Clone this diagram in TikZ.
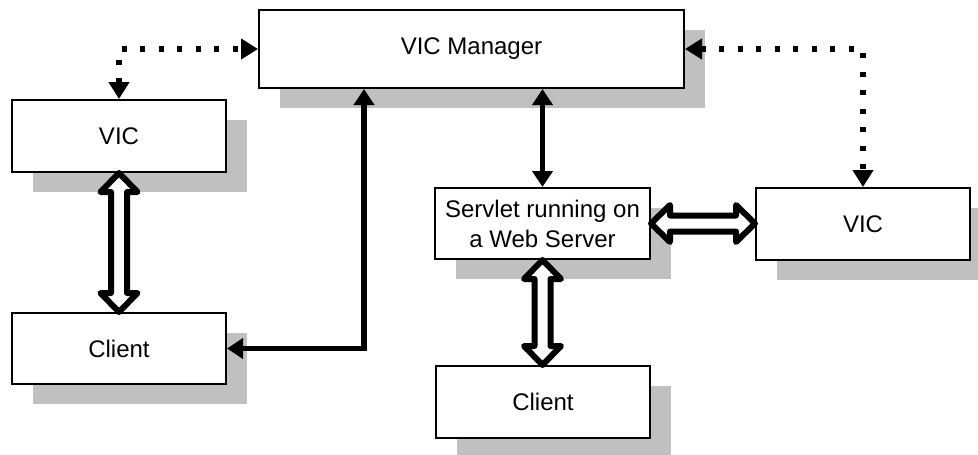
\documentclass[tikz,border=0pt]{standalone}
\usepackage{fontspec}
\setmainfont{Liberation Sans}
\usetikzlibrary{arrows.meta,shadows,calc}
\definecolor{shade}{HTML}{C0C0C0}

% Hollow double-headed block arrows (vertical and horizontal)
\newcommand\hollowV[2]{%
  \draw[hollow] let \p1=(#1), \p2=(#2) in
    (\x1,\y1) -- (\x1+18.5pt,\y1-19pt) -- (\x1+8pt,\y1-19pt)
    -- (\x1+8pt,\y2+19pt) -- (\x1+18.5pt,\y2+19pt) -- (\x1,\y2)
    -- (\x1-18.5pt,\y2+19pt) -- (\x1-8pt,\y2+19pt)
    -- (\x1-8pt,\y1-19pt) -- (\x1-18.5pt,\y1-19pt) -- cycle;}
\newcommand\hollowH[2]{%
  \draw[hollow] let \p1=(#1), \p2=(#2) in
    (\x1,\y1) -- (\x1+19pt,\y1+18.5pt) -- (\x1+19pt,\y1+8pt)
    -- (\x2-19pt,\y1+8pt) -- (\x2-19pt,\y1+18.5pt) -- (\x2,\y1)
    -- (\x2-19pt,\y1-18.5pt) -- (\x2-19pt,\y1-8pt)
    -- (\x1+19pt,\y1-8pt) -- (\x1+19pt,\y1-18.5pt) -- cycle;}

\begin{document}
\begin{tikzpicture}[x=1pt,y=-1pt,
  box/.style={rectangle, draw=black, line width=2pt, fill=white, inner sep=0pt,
    minimum width=214pt, minimum height=72pt, align=center,
    font=\fontsize{24}{30}\selectfont,
    general shadow={fill=shade, draw=none, shadow xshift=21pt, shadow yshift=-20pt}},
  solidarr/.style={line width=5.5pt, line join=miter,
    {Triangle[length=16pt,width=20pt]}-{Triangle[length=16pt,width=20pt]}},
  dotarr/.style={line width=5.5pt, dash pattern=on 5pt off 13.5pt,
    {Triangle[length=17pt,width=20pt]}-{Triangle[length=17pt,width=20pt]}},
  hollow/.style={draw=black, fill=white, line width=6pt, line join=round}]

\useasboundingbox (0,0) rectangle (978,455);
\clip (0,0) rectangle (978,455);

% boxes
\node[box, minimum width=425pt, minimum height=78pt] (mgr) at (471.5,49) {VIC Manager};
\node[box] (vicL) at (119,136) {VIC};
\node[box, minimum height=71pt] (cliL) at (119,348.5) {Client};
\node[box, minimum width=215pt, minimum height=71pt] (srv) at (542.5,223.5) {Servlet running on\\a Web Server};
\node[box] (vicR) at (863,224) {VIC};
\node[box] (cliB) at (543,402) {Client};

% dotted links between the manager and the VICs
\draw[dotarr] (vicL.north) |- (mgr.west);
\draw[dotarr] (mgr.east) -| (vicR.north);

% solid links from the manager
\coordinate (mgrDrop) at ([xshift=106pt]mgr.south west);
\draw[solidarr] (mgrDrop) |- (cliL.east);
\draw[solidarr] (mgr.south -| srv.north) -- (srv.north);

% client / VIC / servlet exchanges
\hollowV{vicL.south}{cliL.north}
\hollowV{srv.south}{cliB.north}
\hollowH{srv.east}{vicR.west}

\end{tikzpicture}
\end{document}
